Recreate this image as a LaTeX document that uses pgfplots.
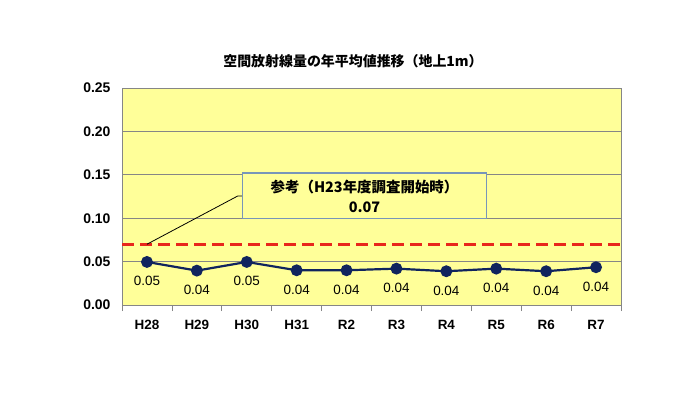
\documentclass[border=0pt]{standalone}
\usepackage{pgfplots}
\pgfplotsset{compat=1.18}
\usepackage{fontspec}
\setmainfont{Liberation Sans}
\newfontfamily\jp{Noto Sans CJK JP}
\definecolor{bgyellow}{RGB}{255,255,153}
\definecolor{gridgray}{RGB}{134,134,134}
\definecolor{navy}{RGB}{16,36,94}
\definecolor{dashred}{RGB}{232,38,28}
\definecolor{boxblue}{RGB}{120,150,185}
\begin{document}
\begin{tikzpicture}
\path (-122bp,-89bp) rectangle (578bp,305bp);
\begin{axis}[
  scale only axis, width=499bp, height=217bp,
  xmin=-0.5, xmax=9.5, ymin=0, ymax=0.25,
  clip=false,
  axis background/.style={fill=bgyellow},
  axis line style={draw=gridgray, line width=0.8bp},
  ytick={0,0.05,0.10,0.15,0.20,0.25},
  ymajorgrids, grid style={draw=gridgray, line width=0.8bp},
  ytick style={draw=none},
  xtick={0,...,9},
  xticklabels={H28,H29,H30,H31,R2,R3,R4,R5,R6,R7},
  minor xtick={-0.5,0.5,...,9.5},
  xtick pos=bottom,
  tick align=outside,
  major tick length=0pt, minor tick length=6bp,
  minor tick style={draw=gridgray, line width=0.8bp},
  /pgf/number format/.cd, fixed, fixed zerofill, precision=2, assume math mode=true,
  /pgfplots/.cd,
  yticklabel style={font=\bfseries\fontsize{14}{16}\selectfont, xshift=-8bp},
  xticklabel style={font=\bfseries\fontsize{13.5}{15}\selectfont, yshift=-12bp},
]
\addplot[dashred, line width=2.6bp, dash pattern=on 12bp off 6bp] coordinates {(-0.5,0.07) (9.5,0.07)};
\addplot[navy, line width=2.2bp, mark=*, mark size=4.8bp, mark options={fill=navy, draw=navy},
  nodes near coords,
  every node near coord/.append style={anchor=north, yshift=-10bp, text=black, font=\fontsize{13.5}{15}\selectfont}]
  coordinates {(0,0.0496) (1,0.0396) (2,0.0496) (3,0.0400) (4,0.0400) (5,0.0419) (6,0.0389) (7,0.0419) (8,0.0389) (9,0.0435)};
\draw[black, line width=0.8bp] (axis cs:0,0.07) -- (axis cs:1.82,0.1256) -- (axis cs:1.92,0.1256);
\draw[draw=boxblue, fill=bgyellow, line width=1.4bp] (axis cs:1.92,0.100) rectangle (axis cs:6.81,0.152);
\node[font=\jp\bfseries\fontsize{14.5}{16}\selectfont] at (axis cs:4.36,0.136) {参考（H23年度調査開始時）};
\node[font=\jp\bfseries\fontsize{14.5}{16}\selectfont] at (axis cs:4.36,0.113) {0.07};
\end{axis}
\node[font=\jp\bfseries\fontsize{14}{16}\selectfont] at (231bp,244bp) {空間放射線量の年平均値推移（地上1m）};
\end{tikzpicture}
\end{document}
